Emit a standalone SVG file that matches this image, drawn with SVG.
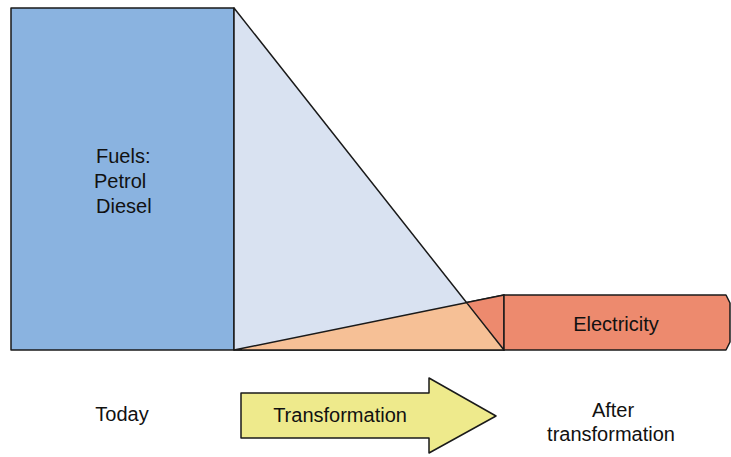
<svg xmlns="http://www.w3.org/2000/svg" width="731" height="457" viewBox="0 0 731 457">
<style>
.s{stroke:#1a1a1a;stroke-width:1.5;stroke-linejoin:round}
text{font-family:"Liberation Sans",Arial,sans-serif;font-size:20px;fill:#111}
</style>
<rect width="731" height="457" fill="#fff"/>
<g id="today-fuels">
<rect class="s" x="11" y="8" width="223" height="342" fill="#8AB3E0"/>
<text x="96" y="163">Fuels:</text>
<text x="94" y="188">Petrol</text>
<text x="96" y="213">Diesel</text>
</g>
<g id="connectors">
<polygon class="s" points="234,8 234,350 504,350" fill="#D9E2F1"/>
<polygon class="s" points="234,350 504,295 504,350" fill="#F6C096"/>
<polygon class="s" points="466.6,302.6 504,295 504,350" fill="#ED8A6E"/>
</g>
<g id="electricity">
<path class="s" d="M504,295 H726 L730,303 V342 L726,350 H504 Z" fill="#ED8A6E"/>
<text x="616" y="331" text-anchor="middle">Electricity</text>
</g>
<g id="transformation-arrow">
<polygon class="s" points="241,393 429,393 429,378 496,416 429,453 429,438 241,438" fill="#EEEA8C"/>
<text x="340" y="422" text-anchor="middle">Transformation</text>
</g>
<g id="labels">
<text x="122" y="421" text-anchor="middle">Today</text>
<text x="613" y="417" text-anchor="middle">After</text>
<text x="611" y="441" text-anchor="middle">transformation</text>
</g>
</svg>
